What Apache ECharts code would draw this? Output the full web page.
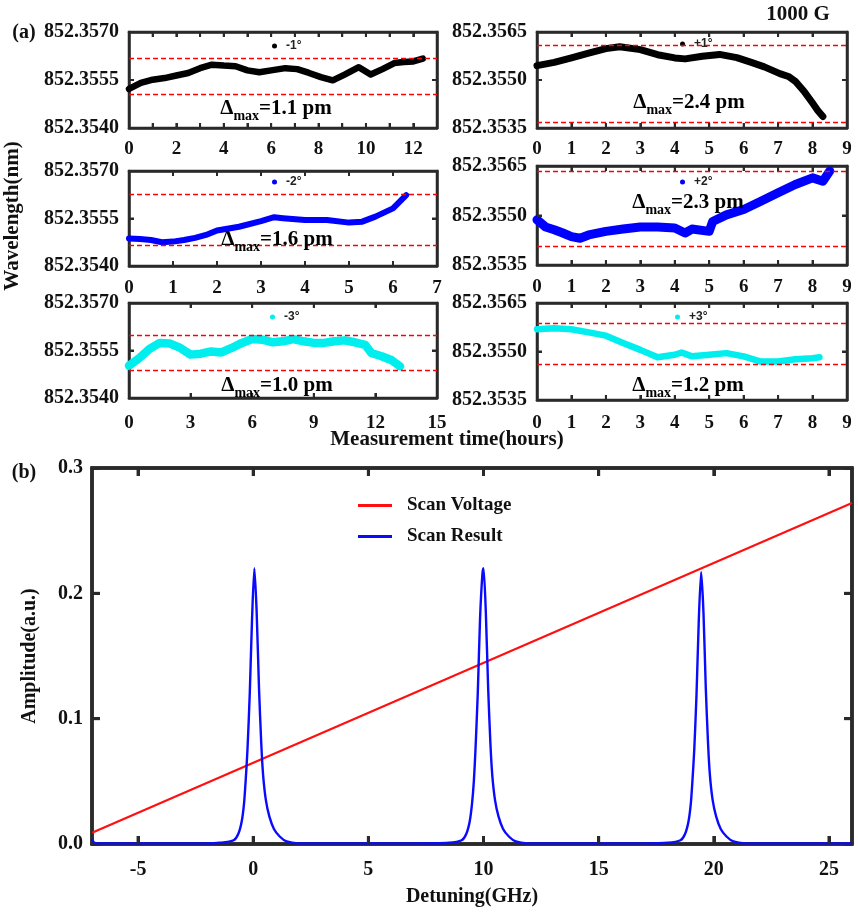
<!DOCTYPE html>
<html>
<head>
<meta charset="utf-8">
<script src="https://cdn.jsdelivr.net/npm/echarts@6.0.0/dist/echarts.min.js"></script>
<style>
html,body{margin:0;padding:0;background:#fff;}
#c{width:858px;height:916px;}
</style>
</head>
<body>
<div id="c"></div>
<script>
// ---------- data: panel (a) ----------
const names = ['-1°', '+1°', '-2°', '+2°', '-3°', '+3°'];
const t1 = [0,0.5,1,1.5,2,2.5,3,3.5,4,4.5,5,5.5,6,6.6,7.1,7.6,8.1,8.6,9.1,9.7,10.2,10.7,11.2,11.6,12,12.4];
const w1 = [852.35522,852.35541,852.35551,852.35556,852.35564,852.35572,852.35587,852.35598,852.35595,852.35593,852.35580,852.35574,852.35580,852.35587,852.35584,852.35572,852.35559,852.35549,852.35567,852.35590,852.35567,852.35584,852.35603,852.35606,852.35608,852.35617];
const t2 = [0,0.5,1,1.5,2,2.4,3,3.5,4,4.3,4.8,5.3,5.8,6.2,6.6,7.05,7.3,7.5,7.75,8.0,8.15,8.3];
const w2 = [852.35545,852.35555,852.35569,852.35584,852.35598,852.35604,852.35595,852.35579,852.35569,852.35566,852.35574,852.35580,852.35570,852.35556,852.35541,852.35520,852.35511,852.35496,852.35465,852.35428,852.35405,852.35386];
const t3 = [0,0.25,0.5,0.75,1,1.25,1.5,1.75,2,2.5,3,3.3,3.5,4,4.5,5,5.3,5.6,6,6.3];
const w3 = [852.35487,852.35485,852.35482,852.35475,852.35477,852.35482,852.35489,852.35498,852.35512,852.35524,852.35542,852.35554,852.35551,852.35545,852.35545,852.35537,852.35540,852.35556,852.35582,852.35624];
const t4 = [0,0.25,0.5,0.75,1,1.25,1.5,2,2.5,3,3.5,4,4.3,4.5,5,5.1,5.5,6,6.5,7,7.5,8,8.3,8.5];
const w4 = [852.35487,852.35465,852.35457,852.35447,852.35436,852.35431,852.35441,852.35452,852.35459,852.35465,852.35465,852.35462,852.35447,852.35459,852.35452,852.35482,852.35502,852.35518,852.35543,852.35569,852.35594,852.35614,852.35604,852.35635];
const t5 = [0,0.5,1,1.5,2,2.5,3,3.5,4,4.5,5,5.5,6,6.5,7,7.5,8,8.5,9,9.5,10,10.5,11,11.5,11.8,12.3,12.8,13.2];
const w5 = [852.35502,852.35526,852.35555,852.35574,852.35572,852.35558,852.35537,852.35540,852.35547,852.35544,852.35558,852.35574,852.35586,852.35584,852.35576,852.35579,852.35586,852.35579,852.35574,852.35574,852.35579,852.35582,852.35576,852.35568,852.35542,852.35532,852.35519,852.35500];
const t6 = [0,0.5,1,1.5,2,2.5,3,3.5,4,4.2,4.5,5,5.5,6,6.5,7,7.5,8,8.2];
const w6 = [852.35569,852.35572,852.35569,852.35559,852.35549,852.35526,852.35505,852.35482,852.35490,852.35497,852.35485,852.35490,852.35495,852.35485,852.35469,852.35469,852.35476,852.35479,852.35482];
// red dashed bounds (nm)
const lim1 = [852.35619, 852.35506];
const lim2 = [852.35610, 852.35368];
const lim3 = [852.35627, 852.35466];
const lim4 = [852.35635, 852.35408];
const lim5 = [852.35597, 852.35489];
const lim6 = [852.35586, 852.35462];
const deltas = ['1.1', '2.4', '1.6', '2.3', '1.0', '1.2'];
// axis ranges / ticks
const yRangeA = [852.3540, 852.3570];
const yRangeB = [852.3535, 852.3565];
const yStepNm = 0.0015;
const xMax = [13, 9, 7, 9, 15, 9];
const xStep = [1, 1, 1, 1, 3, 1];
const xLabelEvery = [2, 1, 1, 1, 3, 1];

// ---------- data: panel (b) ----------
const voltX = [-7, 26];
const voltY = [0.009, 0.272];
const scanX = [-7,-6.9,-6.7,-4,-2,-1.45,
  -0.85,-0.65,-0.5,-0.4,-0.33,-0.25,-0.15,-0.05,0.05,0.15,0.25,0.35,0.43,0.55,0.7,0.9,1.15,1.45,1.95,
  4,7,8.5,
  9.05,9.25,9.4,9.5,9.58,9.65,9.75,9.85,9.95,10.0,10.1,10.2,10.3,10.38,10.5,10.65,10.85,11.1,11.4,11.9,
  14,17,18.0,
  18.55,18.75,18.9,19.0,19.07,19.15,19.25,19.35,19.45,19.55,19.65,19.75,19.83,19.95,20.1,20.3,20.55,20.85,21.35,
  23,26];
const scanY = [0.004,0.001,0.0005,0.0005,0.0005,0.001,
  0.003,0.008,0.018,0.032,0.05,0.075,0.12,0.18,0.22,0.185,0.125,0.08,0.055,0.035,0.022,0.012,0.006,0.002,0.0005,
  0.0005,0.0005,0.001,
  0.003,0.008,0.018,0.032,0.05,0.075,0.12,0.18,0.215,0.22,0.185,0.125,0.08,0.055,0.035,0.022,0.012,0.006,0.002,0.0005,
  0.0005,0.0005,0.001,
  0.003,0.008,0.018,0.032,0.05,0.075,0.12,0.18,0.217,0.185,0.125,0.08,0.055,0.035,0.022,0.012,0.006,0.002,0.0005,
  0.0005,0.0005];
const bXRange = [-7, 26];
const bXTicks = [-5,0,5,10,15,20,25];
const bYTicks = [0.1, 0.2];
const bYMax = 0.3, bYStep = 0.1;

// ---------- build ----------
const SERIF = '"Liberation Serif", "Times New Roman", serif';
const SANS = '"Liberation Sans", Arial, sans-serif';
const AX = '#2a2a2a';
const axLine = (w) => ({show:true, onZero:false, lineStyle:{color:AX, width:w}});

const panels = [
  {t:t1, w:w1, lim:lim1, yr:yRangeA, color:'#000000', lw:6.5},
  {t:t2, w:w2, lim:lim2, yr:yRangeB, color:'#000000', lw:7},
  {t:t3, w:w3, lim:lim3, yr:yRangeA, color:'#0000ff', lw:6},
  {t:t4, w:w4, lim:lim4, yr:yRangeB, color:'#0000ff', lw:9},
  {t:t5, w:w5, lim:lim5, yr:yRangeA, color:'#00eeee', lw:8.5},
  {t:t6, w:w6, lim:lim6, yr:yRangeB, color:'#00eeee', lw:6.5}
];
const boxes = [
  {left:129, top:32, width:308, height:96, lm:12},
  {left:537, top:32, width:310, height:96, lm:12},
  {left:129, top:171, width:308, height:95, lm:13},
  {left:537, top:166, width:310, height:99, lm:13},
  {left:129, top:303, width:308, height:95, lm:16},
  {left:537, top:303, width:310, height:97, lm:14}
];
const legendPos = [[272,40],[680,38],[272,176],[680,176],[270,311],[675,311]];
const deltaPos = [[276,109],[689,103],[277,240],[688,203],[277,386],[688,386]];

const grid = [], xAxis = [], yAxis = [], series = [], legend = [], graphic = [];
const tickSpecs = [];

// inward frame ticks as short solid marker segments in data space
function tickSegs(xs, ys, x0, x1, y0, y1, dx, dy, w) {
  const st = {type:'solid', color:AX, width:w};
  const segs = [];
  xs.forEach(v => {
    segs.push([{coord:[v, y0], lineStyle:st}, {coord:[v, y0 + dy], lineStyle:st}]);
    segs.push([{coord:[v, y1], lineStyle:st}, {coord:[v, y1 - dy], lineStyle:st}]);
  });
  ys.forEach(v => {
    segs.push([{coord:[x0, v], lineStyle:st}, {coord:[x0 + dx, v], lineStyle:st}]);
    segs.push([{coord:[x1, v], lineStyle:st}, {coord:[x1 - dx, v], lineStyle:st}]);
  });
  return segs;
}

panels.forEach((p, i) => {
  const b = boxes[i];
  // y is plotted in pm above the panel's lower axis limit; labels convert back to nm
  const base = p.yr[0];
  const toPm = v => (v - base) * 1000;
  const span = Math.round((p.yr[1] - p.yr[0]) * 1000 * 1e6) / 1e6;
  const step = yStepNm * 1000;
  grid.push({left:b.left, top:b.top, width:b.width, height:b.height, show:true,
    borderColor:AX, borderWidth:2.5, backgroundColor:'transparent'});
  const every = xLabelEvery[i];
  xAxis.push({type:'value', gridIndex:i, min:0, max:xMax[i], interval:xStep[i], position:'bottom',
    axisLine:axLine(2.5), splitLine:{show:false}, axisTick:{show:true, inside:true, length:5, lineStyle:{color:AX, width:2}},
    axisLabel:{margin:b.lm, color:'#111', fontFamily:SERIF, fontWeight:'bold', fontSize:19, showMinLabel:true, showMaxLabel:true,
      formatter:v => (Math.round(v) % every === 0 ? String(Math.round(v)) : '')}});
  xAxis.push({type:'value', gridIndex:i, min:0, max:xMax[i], interval:xStep[i], position:'top',
    axisLine:axLine(2.5), splitLine:{show:false}, axisTick:{show:true, inside:true, length:5, lineStyle:{color:AX, width:2}}, axisLabel:{show:false}});
  yAxis.push({type:'value', gridIndex:i, min:0, max:span, interval:step, position:'left',
    axisLine:axLine(2.5), splitLine:{show:false}, axisTick:{show:true, inside:true, length:5, lineStyle:{color:AX, width:2}},
    axisLabel:{margin:10, color:'#111', fontFamily:SERIF, fontWeight:'bold', fontSize:20, showMinLabel:true, showMaxLabel:true,
      formatter:v => (base + v / 1000).toFixed(4)}});
  yAxis.push({type:'value', gridIndex:i, min:0, max:span, interval:step, position:'right',
    axisLine:axLine(2.5), splitLine:{show:false}, axisTick:{show:true, inside:true, length:5, lineStyle:{color:AX, width:2}}, axisLabel:{show:false}});
  const xt = [];
  for (let v = xStep[i]; v < xMax[i]; v += xStep[i]) xt.push(v);
  const dy = span / b.height * 5, dx = xMax[i] / b.width * 5;
  series.push({type:'line', name:names[i], xAxisIndex:2*i, yAxisIndex:2*i,
    data:p.t.map((x, k) => [x, toPm(p.w[k])]), showSymbol:false, color:p.color,
    lineStyle:{color:p.color, width:p.lw, join:'round', cap:'round'},
    markLine:{silent:true, symbol:'none', label:{show:false}, animation:false,
      lineStyle:{color:'#ff0000', type:[5,3], width:1.3},
      data:[{yAxis:toPm(p.lim[0])}, {yAxis:toPm(p.lim[1])}].concat(
        tickSegs(xt, [step], 0, xMax[i], 0, span, dx, dy, 2))}});
  tickSpecs.push({axis:2*i, pts:xt.map(v => [v, 0]), dir:'up', len:5, w:2});
  tickSpecs.push({axis:2*i, pts:xt.map(v => [v, span]), dir:'down', len:5, w:2});
  tickSpecs.push({axis:2*i, pts:[[0, step]], dir:'right', len:5, w:2});
  tickSpecs.push({axis:2*i, pts:[[xMax[i], step]], dir:'left', len:5, w:2});
  legend.push({data:[names[i]], left:legendPos[i][0], top:legendPos[i][1], icon:'circle',
    itemWidth:5, itemHeight:5, padding:0, selectedMode:false,
    textStyle:{fontFamily:SANS, fontWeight:'bold', fontSize:12, color:'#222', padding:[0,0,0,4]}});
  graphic.push({type:'text', x:deltaPos[i][0], y:deltaPos[i][1], z:100,
    style:{text:'{a|Δ}{s|max}{a|=' + deltas[i] + ' pm}', align:'center', verticalAlign:'middle',
      rich:{a:{fontFamily:SERIF, fontWeight:'bold', fontSize:21, lineHeight:24, color:'#111', verticalAlign:'middle'},
            s:{fontFamily:SERIF, fontWeight:'bold', fontSize:14, lineHeight:14, color:'#111', verticalAlign:'bottom', padding:[0,0,-2,0]}}}});
});

// panel (b)
const gB = {left:92, top:468, width:760, height:376};
grid.push({left:gB.left, top:gB.top, width:gB.width, height:gB.height, show:true, borderColor:AX, borderWidth:3.5, backgroundColor:'transparent'});
xAxis.push({type:'value', gridIndex:6, min:bXRange[0], max:bXRange[1], position:'bottom',
  axisLine:axLine(3.5), splitLine:{show:false}, axisTick:{show:false},
  axisLabel:{customValues:bXTicks, margin:16, color:'#111', fontFamily:SERIF, fontWeight:'bold', fontSize:20}});
xAxis.push({type:'value', gridIndex:6, min:bXRange[0], max:bXRange[1], position:'top',
  axisLine:axLine(3.5), splitLine:{show:false}, axisTick:{show:false}, axisLabel:{show:false}});
yAxis.push({type:'value', gridIndex:6, min:0, max:bYMax, interval:bYStep, position:'left',
  axisLine:axLine(3.5), splitLine:{show:false}, axisTick:{show:true, inside:true, length:8, lineStyle:{color:AX, width:3}},
  axisLabel:{margin:9, color:'#111', fontFamily:SERIF, fontWeight:'bold', fontSize:20, showMinLabel:true, showMaxLabel:true,
    formatter:v => v.toFixed(1)}});
yAxis.push({type:'value', gridIndex:6, min:0, max:bYMax, interval:bYStep, position:'right',
  axisLine:axLine(3.5), splitLine:{show:false}, axisTick:{show:true, inside:true, length:8, lineStyle:{color:AX, width:3}}, axisLabel:{show:false}});
const bdy = bYMax / gB.height * 8, bdx = (bXRange[1] - bXRange[0]) / gB.width * 8;
series.push({type:'line', name:'Scan Voltage', xAxisIndex:12, yAxisIndex:12, data:voltX.map((x, k) => [x, voltY[k]]),
  showSymbol:false, color:'#ff1010', lineStyle:{color:'#ff1010', width:2.2},
  markLine:{silent:true, symbol:'none', label:{show:false}, animation:false,
    data:tickSegs(bXTicks, bYTicks, bXRange[0], bXRange[1], 0, bYMax, bdx, bdy, 3)}});
series.push({type:'line', name:'Scan Result', xAxisIndex:12, yAxisIndex:12, data:scanX.map((x, k) => [x, scanY[k]]),
  showSymbol:false, color:'#0a0aff', lineStyle:{color:'#0a0aff', width:2.4}, smooth:0.25, z:5});
tickSpecs.push({axis:12, pts:bXTicks.map(v => [v, 0]), dir:'up', len:8, w:3});
tickSpecs.push({axis:12, pts:bXTicks.map(v => [v, bYMax]), dir:'down', len:8, w:3});
tickSpecs.push({axis:12, pts:bYTicks.map(v => [bXRange[0], v]), dir:'right', len:8, w:3});
tickSpecs.push({axis:12, pts:bYTicks.map(v => [bXRange[1], v]), dir:'left', len:8, w:3});
legend.push({data:['Scan Voltage', 'Scan Result'], orient:'vertical', left:358, top:496, icon:'rect',
  itemWidth:34, itemHeight:3, itemGap:12, padding:0, selectedMode:false,
  textStyle:{fontFamily:SERIF, fontWeight:'bold', fontSize:19, color:'#111', padding:[0,0,0,10]}});

// titles / axis names
const tstyle = (txt, size) => ({text:txt, fontFamily:SERIF, fontWeight:'bold', fontSize:size, fill:'#111', align:'center', verticalAlign:'middle'});
graphic.push({type:'text', x:24, y:33, style:tstyle('(a)', 20)});
graphic.push({type:'text', x:24, y:473, style:tstyle('(b)', 20)});
graphic.push({type:'text', x:798, y:15, style:tstyle('1000 G', 21)});
graphic.push({type:'text', x:13, y:216, rotation:Math.PI/2, style:tstyle('Wavelength(nm)', 21)});
graphic.push({type:'text', x:447, y:440, style:tstyle('Measurement time(hours)', 21)});
graphic.push({type:'text', x:30, y:656, rotation:Math.PI/2, style:tstyle('Amplitude(a.u.)', 20)});
graphic.push({type:'text', x:472, y:897, style:tstyle('Detuning(GHz)', 20)});

const chart = echarts.init(document.getElementById('c'), null, {renderer:'canvas'});
chart.setOption({animation:false, backgroundColor:'#fff', grid, xAxis, yAxis, series, legend, graphic});

// extra inward frame ticks placed through the axes' own scales
tickSpecs.forEach(s => {
  s.pts.forEach(pt => {
    const px = chart.convertToPixel({xAxisIndex:s.axis, yAxisIndex:s.axis}, pt);
    if (!px || isNaN(px[0]) || isNaN(px[1])) return;
    let shape;
    if (s.dir === 'up') shape = {x:px[0] - s.w / 2, y:px[1] - s.len, width:s.w, height:s.len};
    else if (s.dir === 'down') shape = {x:px[0] - s.w / 2, y:px[1], width:s.w, height:s.len};
    else if (s.dir === 'right') shape = {x:px[0], y:px[1] - s.w / 2, width:s.len, height:s.w};
    else shape = {x:px[0] - s.len, y:px[1] - s.w / 2, width:s.len, height:s.w};
    graphic.push({type:'rect', shape, style:{fill:AX}, z:90, silent:true});
  });
});
chart.setOption({graphic});
</script>
</body>
</html>
